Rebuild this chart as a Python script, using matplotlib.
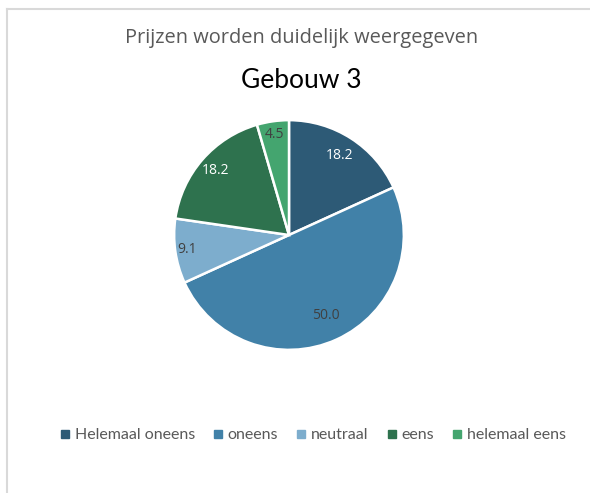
import numpy as np
import matplotlib.pyplot as plt
from matplotlib.lines import Line2D

# data
categories = ['Helemaal oneens', 'oneens', 'neutraal', 'eens', 'helemaal eens']
values = [18.2, 50.0, 9.1, 18.2, 4.5]
colors = ['#2D5A76', '#4181A8', '#7DADCD', '#2E724E', '#44A56F']
label_colors = ['white', '#404040', '#404040', 'white', '#404040']
label_dist = [0.82, 0.77, 0.9, 0.85, 0.88]  # excel "best fit" placement

fig = plt.figure(figsize=(5.90, 4.93), dpi=100)

# light gray frame like the excel chart area
fig.add_artist(Line2D([7/590, 7/590], [0, 1 - 9/493], color='#D9D9D9', lw=1.5))
fig.add_artist(Line2D([7/590, 1], [1 - 9/493, 1 - 9/493], color='#D9D9D9', lw=1.5))

fig.text(302/590, 1 - 38/493, 'Prijzen worden duidelijk weergegeven', ha='center', va='center',
         fontsize=14.4, color='#595959', family='Open Sans')
fig.text(301/590, 1 - 80/493, 'Gebouw 3', ha='center', va='center',
         fontsize=19, color='black', family='Lato')

ax = fig.add_axes([(289 - 116) / 590, 1 - (235 + 116) / 493, 232 / 590, 232 / 493])
wedges, texts, autotexts = ax.pie(values, colors=colors, startangle=90, counterclock=False,
                                  autopct='%.1f', pctdistance=0.84,
                                  wedgeprops=dict(edgecolor='white', linewidth=1.8))
for w, t, c, d in zip(wedges, autotexts, label_colors, label_dist):
    ang = np.deg2rad((w.theta1 + w.theta2) / 2)
    t.set_position((d * np.cos(ang), d * np.sin(ang)))
    t.set_color(c)
    t.set_fontsize(10)
    t.set_family('Open Sans')
ax.set_xlim(-1.01, 1.01)
ax.set_ylim(-1.01, 1.01)
ax.set_aspect('equal')

handles = [plt.Line2D([], [], marker='s', linestyle='', color=c, markersize=5.5) for c in colors]
fig.legend(handles, categories, loc='center', bbox_to_anchor=(313/590, 1 - 435/493), ncol=5,
           frameon=False, handlelength=0.6, handletextpad=0.3, columnspacing=1.15,
           prop=dict(family='Lato', size=11.5), labelcolor='#595959')

fig.savefig('out.png', dpi=100, facecolor='white')
